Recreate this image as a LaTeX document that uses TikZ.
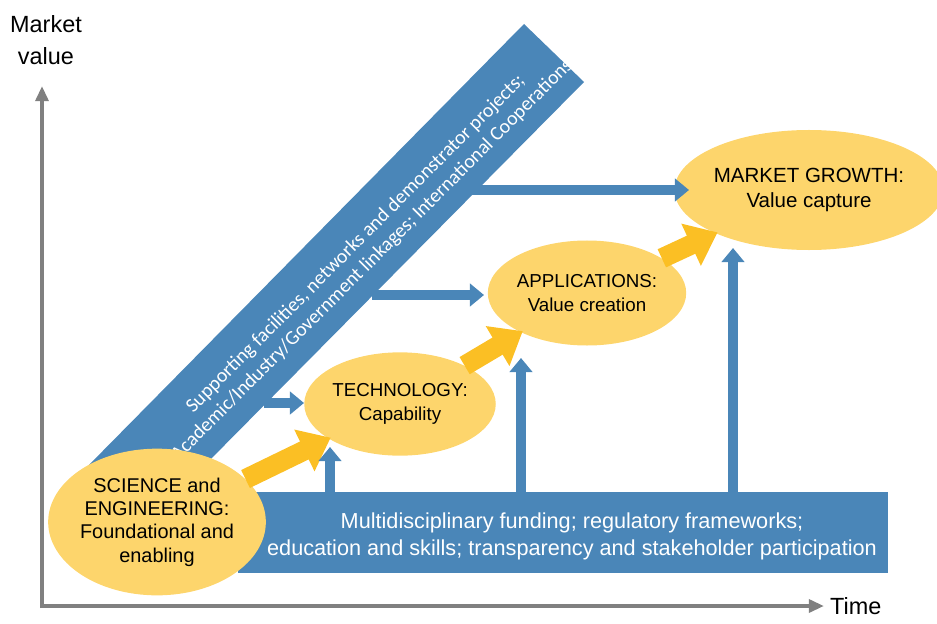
\documentclass[tikz,border=0pt]{standalone}
\usepackage{fontspec}
\setmainfont{Liberation Sans}
\newfontfamily\bandfont{Carlito}
\usetikzlibrary{arrows.meta,shapes.geometric}
\definecolor{bandblue}{HTML}{4A86B8}
\definecolor{eyellow}{HTML}{FDD56C}
\definecolor{ayellow}{HTML}{FBBF24}
\definecolor{axgray}{HTML}{808080}
\begin{document}
\begin{tikzpicture}[x=0.03cm,y=-0.03cm]
	\tikzset{
		stage/.style = {ellipse, fill=eyellow, inner sep=0, align=center, font=\fontsize{16}{21}\selectfont},
		yarrow/.style = {ayellow, line width=17pt, -{Triangle[length=25pt,width=38pt]}, shorten >=-2pt},
		barrow/.style = {bandblue, line width=9pt, -{Triangle[length=12pt,width=19pt]}},
		axis/.style = {axgray, line width=3.5pt, -{Triangle[length=13pt,width=11pt]}}
	}
	\useasboundingbox (0,0) rectangle (937,623);
	% axes
	\coordinate (o) at (42,608);
	\coordinate (ytop) at (42,86);
	\coordinate (xend) at (824,606);
	\draw[axis] (o) -- (ytop);
	\draw[axis] (42,606) -- (xend);
	\node[font=\fontsize{20}{27}\selectfont, align=center] (mv) at (46,40) {Market\\value};
	\node[font=\fontsize{20}{24}\selectfont, anchor=west] (time) at (826,606) {Time};
	% bands
	\fill[bandblue] (524,24) -- (584,82) -- (200,470) -- (84,470) -- cycle;
	\node[text=white, rotate=45, align=center, font=\bandfont\fontsize{17}{20}\selectfont] (sup) at (364,252)
		{Supporting facilities, networks and demonstrator projects;\\Academic/Industry/Government linkages; International Cooperations};
	\node[fill=bandblue, minimum width=19.5cm, minimum height=2.43cm, inner sep=0, anchor=north east] (fund) at (888,492) {};
	\node[text=white, align=center, font=\fontsize{18.5}{23}\selectfont] (fundtxt) at (572,536)
		{Multidisciplinary funding; regulatory frameworks;\\education and skills; transparency and stakeholder participation};
	% stages
	\node[stage, minimum width=6.45cm, minimum height=4.4cm, font=\fontsize{17}{20}\selectfont] (sci) at (157,522) {SCIENCE and\\ENGINEERING:\\Foundational and\\enabling};
	\node[stage, minimum width=5.4cm, minimum height=3.1cm] (tech) at (400,404) {TECHNOLOGY:\\Capability};
	\node[stage, minimum width=5.9cm, minimum height=3.15cm] (app) at (587,293) {APPLICATIONS:\\Value creation};
	\node[stage, minimum width=7.1cm, minimum height=3.6cm, font=\fontsize{17.5}{22}\selectfont] (mkt) at (809,190) {MARKET GROWTH:\\Value capture};
	% yellow progression
	\draw[yarrow] (sci) -- (tech);
	\draw[yarrow] (tech) -- (app);
	\draw[yarrow] (app) -- (mkt);
	% blue supports
	\coordinate (s1) at (264,403);
	\coordinate (s2) at (372,295);
	\coordinate (s3) at (466,190);
	\draw[barrow] (s1) -- (tech.west |- s1);
	\draw[barrow] (s2) -- (484,295);
	\draw[barrow] (s3) -- (689,190);
	\coordinate (f1) at (330,493);
	\coordinate (f2) at (521,493);
	\coordinate (f3) at (733,493);
	\draw[barrow] (f1) -- (330,447);
	\draw[barrow] (f2) -- (521,358);
	\draw[barrow] (f3) -- (733,248);
\end{tikzpicture}
\end{document}
